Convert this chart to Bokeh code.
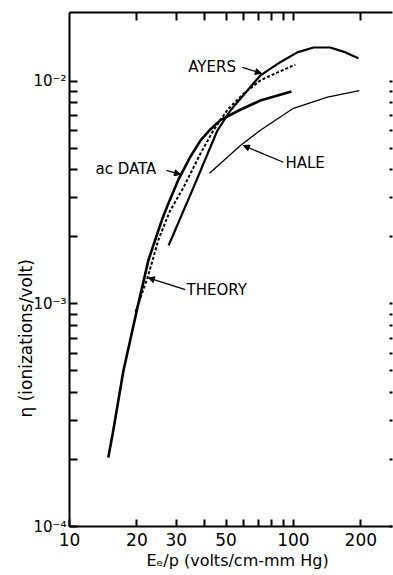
from bokeh.plotting import figure
from bokeh.models import LogAxis, FixedTicker, Range1d, Label, Arrow, NormalHead, Title
from bokeh.embed import file_html
from bokeh.resources import INLINE

# ---------------- data ----------------
ac_E = [14.9, 15.6, 17.4, 20.1, 22.5, 26.0, 28.0, 30.7, 34.5, 38.5, 42.5, 47.2, 57.0, 71.1, 98.0]
ac_eta = [2.04e-4, 2.62e-4, 5.0e-4, 9.6e-4, 1.57e-3, 2.42e-3, 2.92e-3, 3.63e-3, 4.55e-3,
          5.43e-3, 6.08e-3, 6.7e-3, 7.4e-3, 8.2e-3, 9.0e-3]

theory_E = [19.7, 22.3, 23.7, 24.9, 28.0, 32.3, 38.5, 43.9, 51.0, 59.8, 71.2, 78.8, 102.0]
theory_eta = [9.2e-4, 1.31e-3, 1.62e-3, 1.93e-3, 2.6e-3, 3.34e-3, 4.75e-3, 6.03e-3, 7.5e-3,
              8.8e-3, 1.01e-2, 1.06e-2, 1.19e-2]

ayers_E = [27.7, 35.8, 45.8, 52.3, 62.3, 71.2, 87.4, 104.0, 123.0, 146.0, 171.0, 195.0]
ayers_eta = [1.83e-3, 3.34e-3, 6.03e-3, 7.4e-3, 9.1e-3, 1.064e-2, 1.22e-2, 1.35e-2,
             1.42e-2, 1.42e-2, 1.35e-2, 1.27e-2]

hale_E = [42.2, 58.0, 71.2, 100.0, 142.0, 197.0]
hale_eta = [3.87e-3, 5.15e-3, 6.03e-3, 7.57e-3, 8.5e-3, 9.1e-3]

x_major = [10, 20, 30, 50, 100, 200]
x_major_labels = ["10", "20", "30", "50", "100", "200"]
x_minor = [40, 60, 70, 80, 90]
y_major = [1e-4, 1e-3, 1e-2]
y_major_labels = ["10\u207b\u2074", "10\u207b\u00b3", "10\u207b\u00b2"]
y_minor = [2e-4, 3e-4, 4e-4, 5e-4, 6e-4, 7e-4, 8e-4, 9e-4,
           2e-3, 3e-3, 4e-3, 5e-3, 6e-3, 7e-3, 8e-3, 9e-3]

note_text = ["AYERS", "ac DATA", "THEORY", "HALE"]
note_E = [33.9, 13.06, 33.3, 92.1]
note_eta = [1.156e-2, 4.02e-3, 1.15e-3, 4.28e-3]
arrow_E0 = [59.2, 27.1, 32.9, 90.2]
arrow_eta0 = [1.156e-2, 3.98e-3, 1.16e-3, 4.33e-3]
arrow_E1 = [71.9, 31.3, 22.5, 59.8]
arrow_eta1 = [1.087e-2, 3.82e-3, 1.31e-3, 5.15e-3]

x_label = "E\u2091/p (volts/cm-mm Hg)"
y_label = "\u03b7 (ionizations/volt)"

FONT = "DejaVu Sans"
TICK_COLOR = "black"

# ---------------- figure ----------------
p = figure(width=393, height=575, x_axis_type="log", y_axis_type="log",
           x_range=Range1d(10, 277), y_range=Range1d(1e-4, 0.0204),
           output_backend="svg", toolbar_location=None,
           min_border_left=69, min_border_right=1, min_border_top=12, min_border_bottom=49)
p.outline_line_color = None
p.xgrid.visible = False
p.ygrid.visible = False
p.background_fill_color = "white"

xt = FixedTicker(ticks=x_major, minor_ticks=x_minor)
yt = FixedTicker(ticks=y_major, minor_ticks=y_minor)
# the top and right axes carry only unlabeled marks
xt_top = FixedTicker(ticks=[], minor_ticks=sorted(x_major[1:] + x_minor))
yt_right = FixedTicker(ticks=[], minor_ticks=sorted(y_major + y_minor))


def style(ax, tick_in, line_width=2.0, line_alpha=1.0):
    ax.axis_line_width = line_width
    ax.axis_line_alpha = line_alpha
    ax.axis_line_color = "black"
    ax.major_tick_in = tick_in
    ax.major_tick_out = 0
    ax.minor_tick_in = tick_in
    ax.minor_tick_out = 0
    ax.major_tick_line_width = 2
    ax.minor_tick_line_width = 2
    ax.major_tick_line_color = TICK_COLOR
    ax.minor_tick_line_color = TICK_COLOR
    ax.major_label_text_font = FONT
    ax.major_label_text_font_size = "15px"
    ax.major_label_text_color = "black"


xa = p.xaxis[0]
xa.ticker = xt
style(xa, 7)
xa.major_label_overrides = {v: s for v, s in zip(x_major, x_major_labels)}
xa.major_label_standoff = 6
xa.major_label_text_font_size = "17px"

ya = p.yaxis[0]
ya.ticker = yt
style(ya, 8)
ya.major_label_overrides = {v: s for v, s in zip(y_major, y_major_labels)}
ya.major_label_standoff = 3

top = LogAxis(ticker=xt_top)
style(top, 8)
top.major_label_standoff = 0
p.add_layout(top, "above")

right = LogAxis(ticker=yt_right)
style(right, 3, line_width=1.0, line_alpha=0.0)
right.major_label_standoff = 0
p.add_layout(right, "right")

# axis titles, placed as side titles so that they can sit off-centre like the original
p.add_layout(Title(text=x_label, align="left", offset=77, standoff=0,
                   text_font=FONT, text_font_size="16px", text_font_style="normal",
                   text_color="black"), "below")
p.add_layout(Title(text=y_label, align="left", offset=109, standoff=-10,
                   text_font=FONT, text_font_size="17px", text_font_style="normal",
                   text_color="black"), "left")

# ---------------- curves ----------------
p.line(ac_E, ac_eta, line_color="black", line_width=2.6)
p.line(theory_E, theory_eta, line_color="black", line_width=2.0, line_dash="3 2")
p.line(ayers_E, ayers_eta, line_color="black", line_width=2.2)
p.line(hale_E, hale_eta, line_color="black", line_width=1.3)

# ---------------- annotations ----------------
for t, x, y in zip(note_text, note_E, note_eta):
    p.add_layout(Label(x=x, y=y, text=t, text_align="left", text_baseline="middle",
                       text_font=FONT, text_font_size="15px", text_color="black"))

for x0, y0, x1, y1 in zip(arrow_E0, arrow_eta0, arrow_E1, arrow_eta1):
    p.add_layout(Arrow(x_start=x0, y_start=y0, x_end=x1, y_end=y1, line_width=1.2,
                       line_color="black",
                       end=NormalHead(size=6, fill_color="black", line_color="black")))

open("out.html", "w").write(file_html(p, INLINE))
